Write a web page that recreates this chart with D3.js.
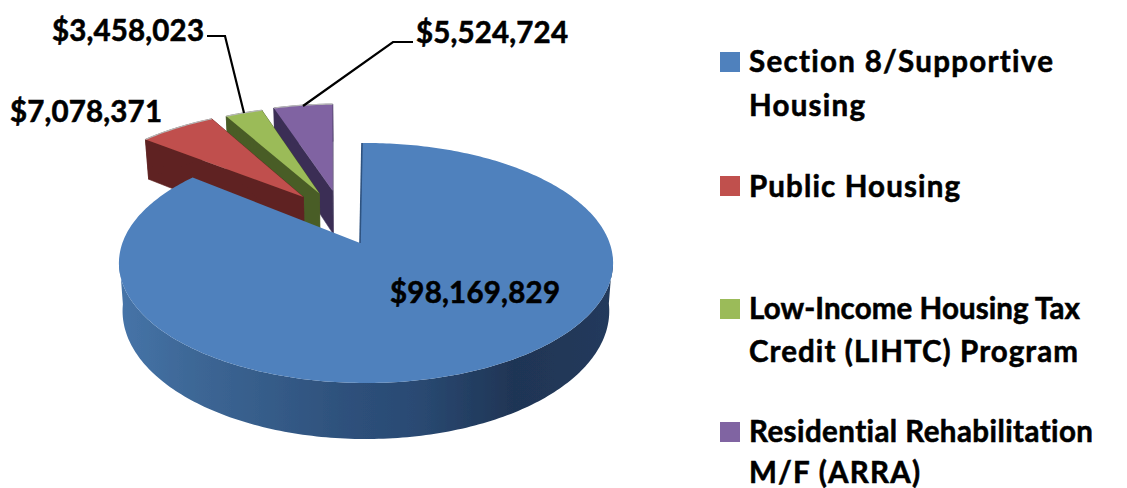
<!DOCTYPE html>
<html><head><meta charset="utf-8">
<script src="https://cdnjs.cloudflare.com/ajax/libs/d3/7.8.5/d3.min.js"></script>
<style>html,body{margin:0;padding:0;background:#fff;overflow:hidden}svg{display:block}
text{font-family:Lato,"Open Sans",sans-serif;font-weight:700;fill:#000;stroke:#000;stroke-width:.55px;font-variant-ligatures:none}</style></head><body>
<svg id="c" width="1127" height="488"></svg>
<script>
const categories = ["Section 8/Supportive Housing","Public Housing","Low-Income Housing Tax Credit (LIHTC) Program","Residential Rehabilitation M/F (ARRA)"];
const values = [98169829,7078371,3458023,5524724];
const valueLabels = ["$98,169,829","$7,078,371","$3,458,023","$5,524,724"];
const legendLines = [["Section 8/Supportive","Housing"],["Public Housing"],["Low-Income Housing Tax","Credit (LIHTC) Program"],["Residential Rehabilitation","M/F (ARRA)"]];
const topColors = ["#4f81bd","#c0504d","#9bbb59","#8064a2"];
const sideColors = ["#2f5280","#5f2422","#4a5d27","#3b2f55"];
const explodeAmount = [0,0.49,0.49,0.5];
const explodeDeg = [0,329.5,338.5,346];

const svg = d3.select("#c");
const rad = d=>d*Math.PI/180;
const colour = d3.scaleOrdinal(categories,topColors);
const side = d3.scaleOrdinal(categories,sideColors);

// perspective projection of the pie plane
const apexX=360, midY=263, R=243.6, RY=120, K=1/6, lift=-20, depth=46.7, conv=0.985;
function project(u,v,shift=0){
  const d=1-K*v;
  return {x:apexX+R*u/d+shift, y:midY+(RY*v+lift)/d, d};
}
const bottom=p=>({x:apexX+(p.x-apexX)*conv, y:p.y+depth/p.d, d:p.d});
const pie=d3.pie().sort(null).value(d=>d).startAngle(rad(-1.1)).endAngle(rad(358.9));
const arcs=pie(values);

function slicePts(a,i){
  const ex=explodeAmount[i], dir=rad(explodeDeg[i]);
  const ou=ex*Math.sin(dir), ov=-ex*Math.cos(dir);
  const n=Math.max(8,Math.round((a.endAngle-a.startAngle)*60));
  const rim=d3.range(n+1).map(k=>{
    const t=a.startAngle+(a.endAngle-a.startAngle)*k/n;
    return project(ou+Math.sin(t),ov-Math.cos(t),i===0?6:0);
  });
  return {apex:project(ou,ov),rim};
}
const line=d3.line().x(d=>d.x).y(d=>d.y);
const poly=pts=>line(pts)+"Z";

const defs=svg.append("defs");
const grad=defs.append("linearGradient").attr("id","blueSide").attr("gradientUnits","userSpaceOnUse")
  .attr("x1",119).attr("x2",613).attr("y1",0).attr("y2",0);
[[0,"#4674a8"],[.15,"#3d6796"],[.45,"#2e517c"],[.6,"#2a4a73"],[.8,"#1f3555"],[1,"#223a5c"]].forEach(s=>
  grad.append("stop").attr("offset",s[0]).attr("stop-color",s[1]));
defs.append("filter").attr("id","soft").append("feGaussianBlur").attr("stdDeviation",0.5);

const g=svg.append("g").attr("filter","url(#soft)");
// exploded slices: back to front
[3,2,1].forEach(i=>{
  const s=slicePts(arcs[i],i), ring=[s.apex,...s.rim];
  const c=categories[i];
  ring.forEach((p,k)=>{
    const q=ring[(k+1)%ring.length];
    g.append("path").attr("d",poly([p,q,bottom(q),bottom(p)])).attr("fill",side(c)).attr("stroke",side(c)).attr("stroke-width",.6);
  });
  g.append("path").attr("d",poly(ring)).attr("fill",colour(c));
  g.append("path").attr("d",line(s.rim)).attr("fill","none").attr("stroke","#b8b8b8").attr("stroke-width",1.2);
});
// main slice
{
  const s=slicePts(arcs[0],0), c=categories[0];
  const front=s.rim.filter(p=>p.y>=midY-8);
  g.append("path").attr("d",poly([...front,...front.slice().reverse().map(bottom)])).attr("fill","url(#blueSide)");
  g.append("path").attr("d",poly([s.apex,...s.rim])).attr("fill",colour(c));
  g.append("path").attr("d",line([s.apex,s.rim[0]])).attr("fill","none").attr("stroke","#2f5280").attr("stroke-width",1.6);
}

// leader lines
const leaders=[[[207,36],[225,36],[244,113]],[[413,42],[393,42],[303,106]]];
leaders.forEach(l=>svg.append("path").attr("d",d3.line()(l)).attr("fill","none").attr("stroke","#000").attr("stroke-width",2.2));

// value labels
const fs=29.5;
const labelPos=[[390,303],[10,122],[52,41],[416,43]];
const labelW=[170,152,152,152];
valueLabels.forEach((t,i)=>svg.append("text").text(t).attr("x",labelPos[i][0]).attr("y",labelPos[i][1]).attr("font-size",fs)
  .attr("textLength",labelW[i]).attr("lengthAdjust","spacing"));

// legend
const legendY=[[72,116],[197],[319,362],[442,483]];
const boxY=[52,176,299,422];
const lineW=[[304,116],[211],[331,329],[344,171]];
categories.forEach((c,i)=>{
  svg.append("rect").attr("x",720).attr("y",boxY[i]).attr("width",20).attr("height",20).attr("fill",colour(c));
  legendLines[i].forEach((t,k)=>svg.append("text").text(t).attr("x",749).attr("y",legendY[i][k]).attr("font-size",fs)
    .attr("textLength",lineW[i][k]).attr("lengthAdjust","spacing"));
});
</script></body></html>
